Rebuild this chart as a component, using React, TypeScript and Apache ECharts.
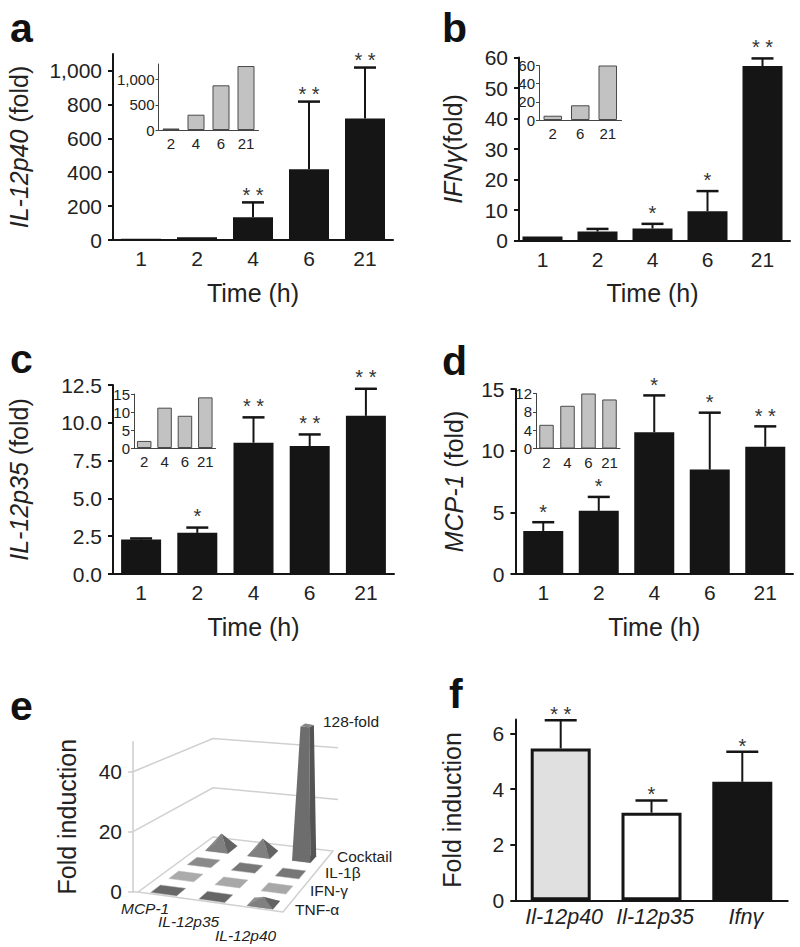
import React, { useEffect, useRef } from "react";
import * as echarts from "echarts";

const FONT = '"Liberation Sans", Arial, sans-serif';
const INK = "#222222";
const BAR = "#151515";

const timeCats = ["1", "2", "4", "6", "21"];

// Panel a
const aMeans = [8, 16, 134, 417, 717];
const aCaps = [8, 16, 222, 817, 1018];
const aStars = ["", "", "* *", "* *", "* *"];
const aTicks = [0, 200, 400, 600, 800, 1000];
const aInsetCats = ["2", "4", "6", "21"];
const aInsetVals = [30, 303, 885, 1267];
const aInsetTicks = [0, 500, 1000];

// Panel b
const bMeans = [1.3, 2.95, 3.93, 9.6, 57.2];
const bCaps = [1.3, 3.8, 5.46, 16.2, 59.7];
const bStars = ["", "", "*", "*", "* *"];
const bTicks = [0, 10, 20, 30, 40, 50, 60];
const bInsetCats = ["2", "6", "21"];
const bInsetVals = [4.7, 16.2, 60];
const bInsetTicks = [0, 20, 40, 60];

// Panel c
const cMeans = [2.28, 2.72, 8.68, 8.46, 10.46];
const cCaps = [2.35, 3.07, 10.36, 9.23, 12.25];
const cStars = ["", "*", "* *", "* *", "* *"];
const cTicks = [0, 2.5, 5, 7.5, 10, 12.5];
const cInsetCats = ["2", "4", "6", "21"];
const cInsetVals = [1.96, 11.2, 8.95, 14.07];
const cInsetTicks = [0, 5, 10, 15];

// Panel d
const dMeans = [3.49, 5.12, 11.5, 8.47, 10.32];
const dCaps = [4.2, 6.25, 14.48, 13.08, 11.97];
const dStars = ["*", "*", "*", "*", "* *"];
const dTicks = [0, 5, 10, 15];
const dInsetCats = ["2", "4", "6", "21"];
const dInsetVals = [5.17, 9.32, 12, 10.7];
const dInsetTicks = [0, 4, 8, 12];

// Panel e
const eCols = ["MCP-1", "IL-12p35", "IL-12p40"];
const eRows = ["TNF-α", "IFN-γ", "IL-1β", "Cocktail"];
const eValues = [
  [1.2, 1.2, 2.2],
  [1, 1, 1],
  [1, 1, 1],
  [5, 5, 128],
];
const eTicks = [0, 20, 40];
const eLevels = [20, 40];

// Panel f
const fCats = ["Il-12p40", "Il-12p35", "Ifnγ"];
const fMeans = [5.46, 3.15, 4.26];
const fCaps = [6.47, 3.59, 5.34];
const fStars = ["* *", "*", "*"];
const fTicks = [0, 2, 4, 6];

const fmtInt = (v: number) => v.toLocaleString("en-US");
const fmtOne = (v: number) => v.toFixed(1);

function lerp(a: number[], b: number[], t: number) {
  return [a[0] + (b[0] - a[0]) * t, a[1] + (b[1] - a[1]) * t];
}
const FL = [138, 892];
const FR = [283, 912];
const BR = [333, 851];
const BL = [213, 837];
function floorPoint(u: number, v: number) {
  return lerp(lerp(FL, BL, v / 4), lerp(FR, BR, v / 4), u / 3);
}
const E_SHADES = [
  ["#686868", "#666666", "#777777"],
  ["#ababab", "#a8a8a8", "#a8a8a8"],
  ["#8a8a8a", "#777777", "#777777"],
  ["#888888", "#888888", "#666666"],
];
const E_TRUNCATE = 44.5;

function buildOption() {
  const grids: any[] = [];
  const xAxes: any[] = [];
  const yAxes: any[] = [];
  const series: any[] = [];

  function addMain(cfg: any) {
    const idx = grids.length;
    grids.push({ left: cfg.left, top: cfg.top, width: cfg.width, height: cfg.height });
    xAxes.push({
      gridIndex: idx,
      type: "category",
      data: cfg.cats,
      name: cfg.xName,
      nameLocation: "middle",
      nameGap: 40,
      nameTextStyle: { fontFamily: FONT, fontSize: 25, color: INK },
      axisLine: { lineStyle: { color: BAR, width: 2 } },
      axisTick: { alignWithLabel: true, length: 6, lineStyle: { color: BAR, width: 2 } },
      axisLabel: {
        fontFamily: FONT,
        fontSize: cfg.xLabelSize || 21,
        fontStyle: cfg.xItalic ? "italic" : "normal",
        color: INK,
        margin: cfg.xMargin || 8,
        interval: 0,
        padding: cfg.xItalic ? [0, 0, 0, 7] : 0,
      },
    });
    yAxes.push({
      gridIndex: idx,
      type: "value",
      min: 0,
      max: cfg.max,
      offset: cfg.offset || 0,
      name: cfg.yName,
      nameLocation: "middle",
      nameRotate: 90,
      nameGap: cfg.nameGap,
      nameTextStyle: {
        fontFamily: FONT,
        fontSize: 25,
        color: INK,
        rich: {
          i: { fontFamily: FONT, fontSize: 25, fontStyle: "italic", color: INK },
          r: { fontFamily: FONT, fontSize: 25, color: INK },
        },
      },
      splitLine: { show: false },
      axisLine: { show: true, lineStyle: { color: BAR, width: 2 } },
      axisTick: { show: true, length: 5, customValues: cfg.ticks, lineStyle: { color: BAR, width: 2 } },
      axisLabel: {
        fontFamily: FONT,
        fontSize: 21,
        color: INK,
        margin: 11,
        customValues: cfg.ticks,
        formatter: cfg.fmt || fmtInt,
      },
    });
    series.push({
      type: "custom",
      xAxisIndex: idx,
      yAxisIndex: idx,
      z: 1,
      silent: true,
      encode: { x: 0, y: [1, 2] },
      data: cfg.means.map((m: number, i: number) => [i, m, cfg.caps[i]]),
      renderItem: (params: any, api: any) => {
        const i = api.value(0);
        const top = api.coord([i, api.value(1)]);
        const cap = api.coord([i, api.value(2)]);
        const star = cfg.stars[params.dataIndex];
        const hw = cfg.capHalf || 11;
        const children: any[] = [];
        if (api.value(2) > api.value(1)) {
          children.push(
            { type: "line", shape: { x1: top[0], y1: top[1], x2: cap[0], y2: cap[1] }, style: { stroke: BAR, lineWidth: 2 } },
            { type: "line", shape: { x1: cap[0] - hw, y1: cap[1], x2: cap[0] + hw, y2: cap[1] }, style: { stroke: BAR, lineWidth: 2.5 } },
          );
        }
        if (star) {
          children.push({
            type: "text",
            style: {
              text: star,
              x: cap[0],
              y: cap[1] - cfg.starGap + 5,
              fill: "#333333",
              font: `20px ${FONT}`,
              align: "center",
              verticalAlign: "middle",
            },
          });
        }
        return { type: "group", children };
      },
    });
    series.push({
      type: "bar",
      xAxisIndex: idx,
      yAxisIndex: idx,
      z: 2,
      silent: true,
      barWidth: cfg.barWidth,
      data: cfg.barData || cfg.means,
      itemStyle: { color: BAR },
    });
  }

  function addInset(cfg: any) {
    const idx = grids.length;
    grids.push({ left: cfg.left, top: cfg.top, width: cfg.width, height: cfg.height });
    xAxes.push({
      gridIndex: idx,
      type: "category",
      data: cfg.cats,
      axisLine: { lineStyle: { color: "#444444", width: 1 } },
      axisTick: { alignWithLabel: true, length: 3, lineStyle: { color: "#444444", width: 1 } },
      axisLabel: { fontFamily: FONT, fontSize: 15, color: INK, margin: 6, interval: 0 },
    });
    yAxes.push({
      gridIndex: idx,
      type: "value",
      min: 0,
      max: cfg.max,
      splitLine: { show: false },
      axisLine: { show: true, lineStyle: { color: "#444444", width: 1 } },
      axisTick: { show: true, length: 3, customValues: cfg.ticks, lineStyle: { color: "#444444", width: 1 } },
      axisLabel: { fontFamily: FONT, fontSize: 15, color: INK, margin: 4, customValues: cfg.ticks, formatter: fmtInt },
    });
    series.push({
      type: "bar",
      xAxisIndex: idx,
      yAxisIndex: idx,
      silent: true,
      barWidth: cfg.barWidth,
      data: cfg.vals,
      itemStyle: { color: "#c2c2c2", borderColor: "#4a4a4a", borderWidth: 1 },
    });
  }

  // a
  addMain({ left: 113, top: 54, width: 280, height: 186, cats: timeCats, xName: "Time (h)", yName: "{i|IL-12p40} {r|(fold)}", nameGap: 82, max: 1098, ticks: aTicks, means: aMeans, caps: aCaps, stars: aStars, barWidth: 40, starGap: 12.5 });
  addInset({ left: 158.5, top: 64, width: 100, height: 66, cats: aInsetCats, max: 1307, ticks: aInsetTicks, vals: aInsetVals, barWidth: 17 });
  // b
  addMain({ left: 515, top: 57.5, width: 275, height: 183, offset: -4, cats: timeCats, xName: "Time (h)", yName: "{i|IFNγ}{r|(fold)}", nameGap: 54, max: 60, ticks: bTicks, means: bMeans, caps: bCaps, stars: bStars, barWidth: 40, starGap: 16 });
  addInset({ left: 539, top: 65.5, width: 82.5, height: 54.5, cats: bInsetCats, max: 60, ticks: bInsetTicks, vals: bInsetVals, barWidth: 18.5 });
  // c
  addMain({ left: 113, top: 385, width: 281, height: 189, cats: timeCats, xName: "Time (h)", yName: "{i|IL-12p35} {r|(fold)}", nameGap: 82, max: 12.5, ticks: cTicks, fmt: fmtOne, means: cMeans, caps: cCaps, stars: cStars, barWidth: 40, starGap: 16.5 });
  addInset({ left: 134, top: 394, width: 81.5, height: 54, cats: cInsetCats, max: 15, ticks: cInsetTicks, vals: cInsetVals, barWidth: 14.5 });
  // d
  addMain({ left: 515.5, top: 389, width: 277.5, height: 185, cats: timeCats, xName: "Time (h)", yName: "{i|MCP-1} {r|(fold)}", nameGap: 49, max: 15, ticks: dTicks, means: dMeans, caps: dCaps, stars: dStars, barWidth: 40, starGap: 15.5 });
  addInset({ left: 536, top: 393.5, width: 84, height: 55, cats: dInsetCats, max: 12, ticks: dInsetTicks, vals: dInsetVals, barWidth: 14.5 });
  // f
  const fFills = ["#e0e0e0", "#ffffff", BAR];
  addMain({
    left: 515.3, top: 719.5, width: 272.4, height: 180.8, cats: fCats, xName: "", xItalic: true, xLabelSize: 21.5, xMargin: 6,
    yName: "{r|Fold induction}", nameGap: 51, max: 6.5, ticks: fTicks, means: fMeans, caps: fCaps, stars: fStars, barWidth: 60, capHalf: 16, starGap: 11,
    barData: fMeans.map((v, i) => ({ value: v, itemStyle: { color: fFills[i], borderColor: BAR, borderWidth: 3 } })),
  });

  const eIdx = grids.length;
  grids.push({ left: 133, top: 741.7, width: 220, height: 150 });
  xAxes.push({ gridIndex: eIdx, type: "value", min: 0, max: 2, show: false });
  yAxes.push({
    gridIndex: eIdx,
    type: "value",
    min: 0,
    max: 50,
    name: "{r|Fold induction}",
    nameLocation: "middle",
    nameRotate: 90,
    nameGap: 54,
    nameTextStyle: { fontFamily: FONT, fontSize: 25, color: INK, rich: { r: { fontFamily: FONT, fontSize: 25, color: INK } } },
    splitLine: { show: false },
    axisLine: { show: true, lineStyle: { color: "#cccccc", width: 1.5 } },
    axisTick: { show: true, length: 5, customValues: eTicks, lineStyle: { color: "#cccccc", width: 1.5 } },
    axisLabel: { fontFamily: FONT, fontSize: 21, color: INK, margin: 11, customValues: eTicks, formatter: fmtInt },
  });
  series.push({
    type: "custom",
    xAxisIndex: eIdx,
    yAxisIndex: eIdx,
    z: 1,
    silent: true,
    encode: { x: 0, y: 1 },
    data: eLevels.map((v) => [0, v]),
    renderItem: (_p: any, api: any) => {
      const base = api.coord([0, 0])[1];
      const h = base - api.coord([0, api.value(1)])[1];
      return {
        type: "polyline",
        shape: { points: [[133, base - h], [BL[0], BL[1] - h * 0.82], [338, BR[1] - h * 0.86]] },
        style: { stroke: "#d0d0d0", lineWidth: 1.5, fill: "none" },
      };
    },
  });
  const eData: number[][] = [];
  for (let r = eRows.length - 1; r >= 0; r--) {
    for (let c = 0; c < eCols.length; c++) eData.push([c, r, eValues[r][c]]);
  }
  series.push({
    type: "custom",
    xAxisIndex: eIdx,
    yAxisIndex: eIdx,
    z: 2,
    silent: true,
    encode: { x: 0, y: 2 },
    data: eData,
    renderItem: (_p: any, api: any) => {
      const c = api.value(0);
      const r = api.value(1);
      const val = api.value(2);
      const tall = val > E_TRUNCATE;
      const s = tall ? 0.22 : 0.27;
      const a = floorPoint(c + 0.5 - s, r + 0.35 - s);
      const b = floorPoint(c + 0.5 + s, r + 0.35 - s);
      const cc = floorPoint(c + 0.5 + s, r + 0.35 + s);
      const d = floorPoint(c + 0.5 - s, r + 0.35 + s);
      const ct = floorPoint(c + 0.5, r + 0.35);
      const base = api.coord([0, 0])[1];
      const h = base - api.coord([0, Math.min(val, E_TRUNCATE)])[1];
      const children: any[] = [
        { type: "polygon", shape: { points: [a, b, cc, d] }, style: { fill: E_SHADES[r][c], stroke: "#bbbbbb", lineWidth: 0.5 } },
      ];
      if (tall) {
        const top = [ct[0] + 3, ct[1] - h];
        const w = 6.7;
        const dy = 1.5;
        const ta = [top[0] - w, top[1] + dy];
        const tb = [top[0] + w * 0.3, top[1] + dy * 1.6];
        const tc = [top[0] + w, top[1]];
        children.push(
          { type: "polygon", shape: { points: [a, b, tb, ta] }, style: { fill: "#6d6d6d" } },
          { type: "polygon", shape: { points: [b, cc, tc, tb] }, style: { fill: "#545454" } },
          { type: "polygon", shape: { points: [ta, tb, tc, [top[0] - w * 0.3, top[1] - dy]] }, style: { fill: "#858585" } },
        );
      } else if (val >= 2) {
        const apex = [ct[0], ct[1] - h];
        children.push(
          { type: "polygon", shape: { points: [a, b, apex] }, style: { fill: "#808080" } },
          { type: "polygon", shape: { points: [b, cc, apex] }, style: { fill: "#636363" } },
          { type: "polygon", shape: { points: [d, a, apex] }, style: { fill: "#8f8f8f" } },
        );
      }
      return { type: "group", children };
    },
  });

  const letter = (text: string, x: number, y: number) => ({
    type: "text",
    x,
    y,
    style: { text, fill: "#111111", font: `bold 41px ${FONT}`, textAlign: "left", textVerticalAlign: "bottom" },
  });
  const small = (text: string, x: number, y: number, italic?: boolean) => ({
    type: "text",
    x,
    y,
    style: { text, fill: INK, font: `${italic ? "italic " : ""}15.5px ${FONT}`, textAlign: "left", textVerticalAlign: "middle" },
  });
  const eColPos = [[121, 908], [158, 921], [215, 935]];
  const eRowPos = [[295, 909], [310, 890], [325, 872], [337, 856]];

  const graphic = [
    letter("a", 10, 48),
    letter("b", 442, 48),
    letter("c", 10, 379),
    letter("d", 442, 381),
    letter("e", 10, 726),
    letter("f", 449, 714),
    {
      type: "polygon",
      z: 0,
      shape: { points: [[133, 891.7], FL, FR, BR, BL, FL] },
      style: { fill: "none", stroke: "#d0d0d0", lineWidth: 1.5 },
    },
    small("128-fold", 323, 721),
    ...eCols.map((t, i) => small(t, eColPos[i][0], eColPos[i][1], true)),
    ...eRows.map((t, i) => small(t, eRowPos[i][0], eRowPos[i][1])),
  ];

  return { animation: false, backgroundColor: "#ffffff", grid: grids, xAxis: xAxes, yAxis: yAxes, series, graphic };
}

export default function App() {
  const ref = useRef<HTMLDivElement>(null);
  useEffect(() => {
    const chart = echarts.init(ref.current as HTMLDivElement, undefined, { renderer: "svg" });
    chart.setOption(buildOption() as any);
    return () => chart.dispose();
  }, []);
  return <div ref={ref} style={{ position: "absolute", left: 0, top: 0, width: 800, height: 947 }} />;
}
